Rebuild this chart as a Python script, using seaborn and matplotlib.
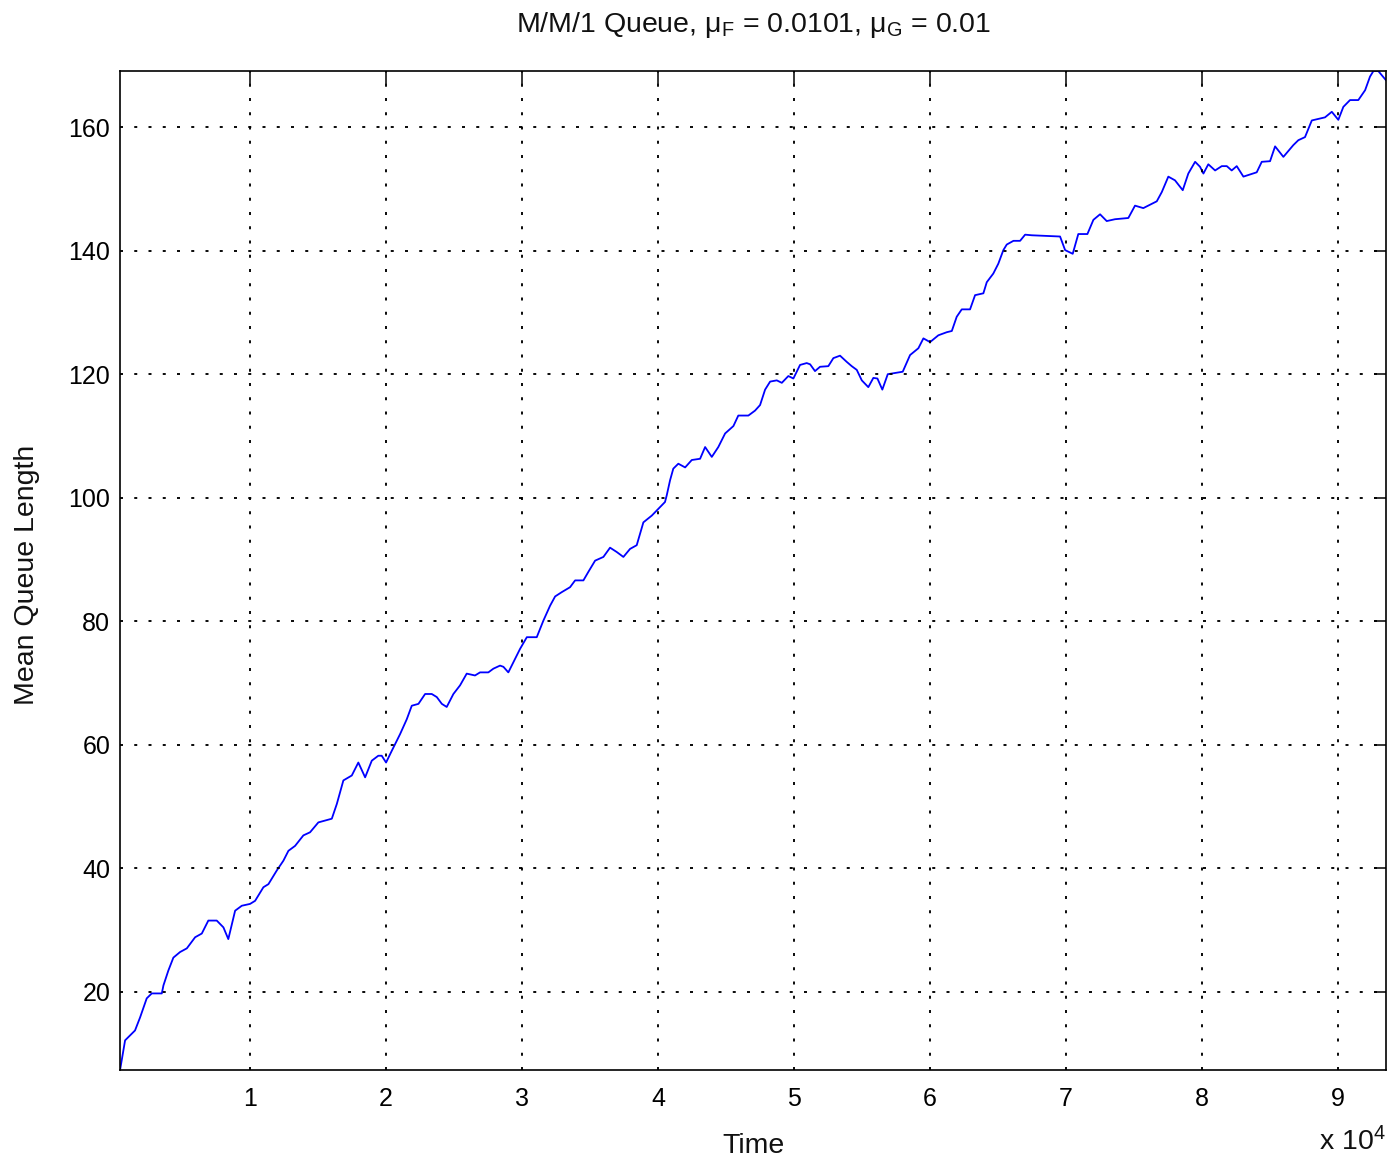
import numpy as np
import pandas as pd
import matplotlib
matplotlib.use("Agg")
import matplotlib.pyplot as plt
import seaborn as sns

# Simulated M/M/1 queue: running mean of queue length against time
time = [
    440, 810, 1540, 1910, 2400, 2770, 3510, 3630, 3990, 4360,
    4850, 5350, 5960, 6450, 6930, 7550, 8040, 8400, 8900, 9390,
    10000, 10370, 10980, 11350, 11960, 12450, 12820, 13310, 13920, 14410,
    15020, 16010, 16380, 16860, 17480, 17960, 18460, 18950, 19430, 19680,
    20000, 20420, 21030, 21520, 21890, 22380, 22870, 23360, 23730, 24100,
    24460, 24950, 25440, 25930, 26540, 26910, 27520, 27890, 28380, 28630,
    28990, 29490, 29850, 30350, 31080, 31570, 32060, 32430, 32920, 33530,
    33900, 34510, 34880, 35370, 35980, 36470, 36960, 37450, 37940, 38430,
    38920, 39540, 40020, 40510, 40640, 40880, 41120, 41490, 41990, 42480,
    43090, 43460, 43950, 44430, 44930, 45540, 45900, 46640, 47130, 47500,
    47870, 48240, 48730, 49100, 49580, 49950, 50440, 50930, 51180, 51540,
    51910, 52520, 52890, 53380, 53870, 54240, 54610, 54980, 55460, 55830,
    56130, 56490, 56890, 57430, 57990, 58530, 59140, 59510, 60000, 60610,
    61230, 61600, 61960, 62330, 62940, 63310, 63920, 64170, 64650, 65020,
    65390, 65640, 66130, 66620, 66990, 67480, 69560, 69930, 70490, 70900,
    71570, 72010, 72500, 72990, 73600, 74580, 75070, 75680, 76670, 77040,
    77520, 78010, 78580, 78990, 79490, 79850, 80100, 80460, 80960, 81450,
    81820, 82180, 82550, 83040, 84020, 84390, 85000, 85370, 85980, 86710,
    87080, 87570, 88070, 89040, 89540, 90020, 90390, 90880, 91490, 91990,
    92350, 92600, 92960, 93530,
]
mean_queue = [
    7.3, 12.1, 13.7, 15.8, 18.9, 19.7, 19.7, 21.0, 23.4, 25.5,
    26.4, 27.0, 28.8, 29.4, 31.5, 31.5, 30.4, 28.5, 33.1, 33.9,
    34.2, 34.7, 36.9, 37.4, 39.6, 41.2, 42.8, 43.6, 45.3, 45.8,
    47.4, 48.0, 50.4, 54.2, 55.0, 57.1, 54.7, 57.4, 58.2, 58.2,
    57.1, 59.0, 61.7, 64.1, 66.3, 66.6, 68.2, 68.2, 67.7, 66.6,
    66.1, 68.2, 69.6, 71.5, 71.2, 71.7, 71.7, 72.3, 72.8, 72.6,
    71.7, 73.9, 75.5, 77.4, 77.4, 80.1, 82.5, 84.0, 84.7, 85.5,
    86.6, 86.6, 88.0, 89.8, 90.4, 91.9, 91.2, 90.4, 91.7, 92.3,
    96.0, 97.1, 98.2, 99.3, 100.4, 102.8, 104.7, 105.5, 104.9, 106.1,
    106.3, 108.2, 106.6, 108.2, 110.4, 111.6, 113.3, 113.3, 114.1, 115.0,
    117.5, 118.8, 119.0, 118.6, 119.7, 119.3, 121.5, 121.8, 121.6, 120.5,
    121.2, 121.3, 122.6, 123.0, 122.0, 121.3, 120.7, 119.0, 117.9, 119.4,
    119.3, 117.5, 120.0, 120.2, 120.4, 123.1, 124.2, 125.8, 125.2, 126.3,
    126.8, 127.0, 129.3, 130.5, 130.5, 132.8, 133.1, 134.9, 136.3, 137.9,
    140.1, 141.0, 141.6, 141.6, 142.6, 142.5, 142.3, 140.1, 139.5, 142.7,
    142.7, 145.0, 145.9, 144.8, 145.1, 145.3, 147.3, 146.9, 148.0, 149.5,
    152.0, 151.4, 149.8, 152.5, 154.4, 153.6, 152.5, 154.0, 153.0, 153.7,
    153.7, 153.0, 153.7, 152.0, 152.7, 154.4, 154.5, 156.9, 155.2, 157.1,
    157.9, 158.4, 161.1, 161.6, 162.5, 161.2, 163.3, 164.4, 164.4, 166.0,
    168.2, 169.1, 169.1, 167.6,
]
x_ticks = [10000, 20000, 30000, 40000, 50000, 60000, 70000, 80000, 90000]
x_tick_labels = ["1", "2", "3", "4", "5", "6", "7", "8", "9"]
y_ticks = [20, 40, 60, 80, 100, 120, 140, 160]

df = pd.DataFrame({"Time": time, "Mean Queue Length": mean_queue})

sns.set_style("white")
plt.rcParams["font.family"] = ["Liberation Sans", "DejaVu Sans"]
plt.rcParams["mathtext.fontset"] = "custom"
plt.rcParams["mathtext.rm"] = "Liberation Sans"
plt.rcParams["mathtext.it"] = "Liberation Sans"
plt.rcParams["mathtext.default"] = "regular"

fig = plt.figure(figsize=(13.88, 11.61), dpi=100)
ax = fig.add_axes([0.0865, 0.0784, 0.9121, 0.8604])

sns.lineplot(data=df, x="Time", y="Mean Queue Length", ax=ax,
             color="#0000ff", linewidth=1.3, estimator=None, sort=False)

ax.set_xlim(min(time), max(time))
ax.set_ylim(min(mean_queue), max(mean_queue))

ax.set_xticks(x_ticks)
ax.set_xticklabels(x_tick_labels)
ax.set_yticks(y_ticks)

ax.grid(True, color="black", linestyle=(0, (1.6, 6.0)), linewidth=1.35)
ax.set_axisbelow(False)

for s in ax.spines.values():
    s.set_visible(True)
    s.set_color("black")
    s.set_linewidth(1.2)

ax.tick_params(axis="both", which="major", direction="in", length=9,
               width=1.1, colors="black", labelsize=18,
               top=True, right=True, labeltop=False, labelright=False)
ax.tick_params(axis="x", pad=12)
ax.tick_params(axis="y", pad=7)

ax.set_xlabel("Time", fontsize=20.5, color="#111111")
ax.set_ylabel("Mean Queue Length", fontsize=20.5, color="#111111")
ax.xaxis.set_label_coords(0.5, -0.063)
ax.yaxis.set_label_coords(-0.063, 0.496)

ax.text(1.0, -0.080, r"x 10$^4$", transform=ax.transAxes, ha="right",
        va="baseline", fontsize=20.5, color="#111111")

ax.set_title(r"M/M/1 Queue, $\mathrm{\mu_F}$ = 0.0101, $\mathrm{\mu_G}$ = 0.01",
             fontsize=20.5, pad=28, color="#111111")

fig.savefig("out.png", dpi=100, facecolor="white")
